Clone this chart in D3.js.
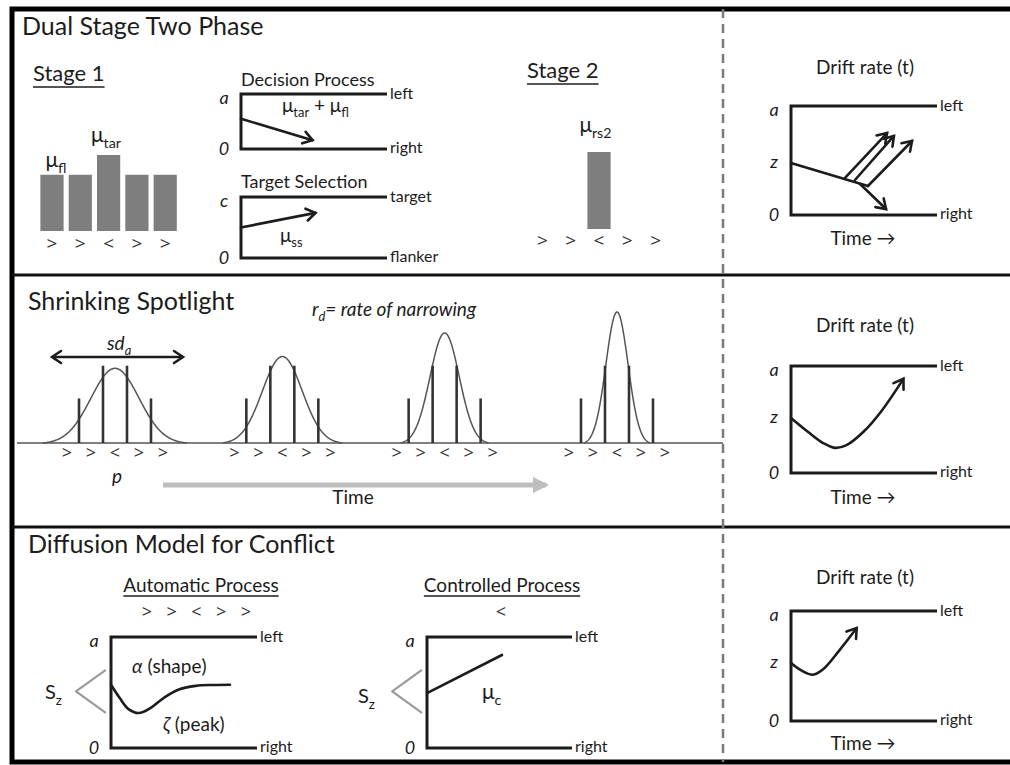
<!DOCTYPE html>
<html><head><meta charset="utf-8">
<script src="https://cdn.jsdelivr.net/npm/d3@7"></script>
<style>
body{margin:0;background:#fff;}
svg{display:block;font-family:Lato,"Open Sans",sans-serif;}
</style></head><body>
<svg id="c" width="1010" height="765"></svg>
<script>
// ---------------- DATA ----------------
const stimulus = [">", ">", "<", ">", ">"];
const controlledStim = ["<"];
const stage1Drift = [0.74, 0.74, 1.0, 0.74, 0.74];
const stage2Drift = [0, 0, 1.0, 0, 0];
const decisionPath = [[0, 0.55], [0.49, 0.16]];
const targetPath = [[0, 0.5], [0.51, 0.74]];
const spotTimes = [0, 1, 1.97, 3];
const spotSD = [1.0, 0.83, 0.61, 0.46];
const spotPeak = [0.57, 0.66, 0.84, 1.0];
const spotBarPos = [-1.5, -0.5, 0.5, 1.5];
const spotBarHeight = [0.34, 0.59, 0.59, 0.34];
const dsttMain = [[0, 0.477], [0.527, 0.266]];
const dsttUp = [[[0.37, 0.34], [0.658, 0.752]], [[0.438, 0.321], [0.705, 0.725]], [[0.527, 0.266], [0.829, 0.679]]];
const dsttDown = [[0.473, 0.284], [0.651, 0.055]];
const sslDrift = [[0, 0.514], [0.12, 0.38], [0.22, 0.28], [0.30, 0.235], [0.38, 0.26], [0.5, 0.39], [0.62, 0.58], [0.77, 0.88]];
const dmcDrift = [[0, 0.527], [0.07, 0.46], [0.15, 0.42], [0.22, 0.47], [0.33, 0.64], [0.45, 0.845]];
const autoPath = [[0, 0.57], [0.06, 0.45], [0.12, 0.35], [0.19, 0.315], [0.27, 0.36], [0.36, 0.45], [0.46, 0.525], [0.58, 0.56], [0.7, 0.568], [0.815, 0.57]];
const controlledPath = [[0, 0.495], [0.517, 0.838]];
const szChevron = [[-0.04, 0.70], [-0.24, 0.51], [-0.04, 0.32]];

// ---------------- SETUP ----------------
const INK = "#1c1c1c";
const ARW = "#2e2e2e";
const svg = d3.select("#c");
const defs = svg.append("defs");
function chevronMarker(id, color, sw) {
  defs.append("marker").attr("id", id).attr("viewBox", "-12 -9 15 18")
    .attr("refX", 0).attr("refY", 0).attr("markerWidth", 15).attr("markerHeight", 18)
    .attr("markerUnits", "userSpaceOnUse").attr("orient", "auto-start-reverse")
    .append("path").attr("d", "M-9,-6L0,0L-9,6").attr("fill", "none")
    .attr("stroke", color).attr("stroke-width", sw).attr("stroke-linecap", "round");
}
chevronMarker("hd", INK, 2.6);
defs.append("marker").attr("id", "gray").attr("viewBox", "-16 -10 20 20")
  .attr("refX", 0).attr("refY", 0).attr("markerWidth", 20).attr("markerHeight", 20)
  .attr("markerUnits", "userSpaceOnUse").attr("orient", "auto")
  .append("path").attr("d", "M-13,-8L3,0L-13,8Z").attr("fill", "#bdbdbd");

// parts: [text, sub(0/1), italic(0/1)]
function txt(x, y, parts, o = {}) {
  const size = o.size || 18;
  const t = svg.append("text").attr("x", x).attr("y", y).attr("font-size", size)
    .attr("fill", o.fill || INK).attr("text-anchor", o.anchor || "start");
  if (o.italic) t.attr("font-style", "italic");
  if (typeof parts === "string") parts = [[parts, 0]];
  let prev = 0;
  parts.forEach(([s, sub, it]) => {
    const ts = t.append("tspan").text(s);
    const shift = sub ? (o.subShift || size * 0.28) : 0;
    if (shift !== prev) ts.attr("dy", shift - prev);
    prev = shift;
    if (sub) ts.attr("font-size", size * 0.68);
    if (it) ts.attr("font-style", "italic");
  });
  if (o.underline) {
    const b = t.node().getBBox();
    svg.append("line").attr("x1", b.x).attr("x2", b.x + b.width)
      .attr("y1", y + o.underline).attr("y2", y + o.underline)
      .attr("stroke", INK).attr("stroke-width", 1.5);
  }
  return t;
}
const line = d3.line();

function diffBox(s) {
  const x = d3.scaleLinear().domain([0, 1]).range([s.x0, s.x1]);
  const y = d3.scaleLinear().domain([0, 1]).range([s.bottom, s.top]);
  svg.append("path").attr("d", line([[x(1), y(1)], [x(0), y(1)], [x(0), y(0)], [x(1), y(0)]]))
    .attr("fill", "none").attr("stroke", INK).attr("stroke-width", 3).attr("stroke-linejoin", "miter");
  txt(x(0) - 17, y(1) + 10, s.topSym, { italic: true, anchor: "middle", size: 18 });
  txt(x(0) - 17, y(0) + 6, "0", { italic: true, anchor: "middle", size: 18 });
  if (s.z !== undefined) txt(x(0) - 17, y(s.z) + 5, "z", { italic: true, anchor: "middle", size: 18 });
  txt(x(1) + 3, y(1) + 5, s.topLab, { size: 16 });
  txt(x(1) + 3, y(0) + 4, s.botLab, { size: 16 });
  return { x, y };
}
function drawPath(b, pts, o = {}) {
  const gen = d3.line().x(d => b.x(d[0])).y(d => b.y(d[1]));
  if (o.curve) gen.curve(o.curve);
  const p = svg.append("path").attr("d", gen(pts)).attr("fill", "none")
    .attr("stroke", o.color || INK).attr("stroke-width", o.sw || 2.6)
    .attr("stroke-linecap", "round").attr("stroke-linejoin", "round");
  if (o.arrow) p.attr("marker-end", "url(#hd)");
  return p;
}
function arrowsRow(cls, data, xf, y, size) {
  svg.selectAll("." + cls).data(data).enter().append("text").attr("class", cls)
    .attr("x", xf).attr("y", y).attr("text-anchor", "middle")
    .attr("font-family", "'Open Sans', sans-serif")
    .attr("font-size", size).attr("fill", ARW).text(d => d);
}

// ---------------- FRAME ----------------
const rows = [9, 275, 527, 762];
svg.append("rect").attr("x", 12).attr("y", rows[0]).attr("width", 1010).attr("height", rows[3] - rows[0])
  .attr("fill", "none").attr("stroke", "#000").attr("stroke-width", 5);
[rows[1], rows[2]].forEach(yy => svg.append("line").attr("x1", 12).attr("x2", 1010).attr("y1", yy).attr("y2", yy)
  .attr("stroke", "#111").attr("stroke-width", 3));
svg.append("line").attr("x1", 723).attr("x2", 723).attr("y1", rows[0]).attr("y2", rows[3])
  .attr("stroke", "#7a7a7a").attr("stroke-width", 2.5).attr("stroke-dasharray", "9,6");

// ---------------- PANEL 1: Dual Stage Two Phase ----------------
txt(22, 35, "Dual Stage Two Phase", { size: 25 });
txt(33, 81, "Stage 1", { size: 22, underline: 6 });

const s1x = d3.scaleBand().domain(d3.range(5)).range([35.3, 181.9]).padding(0.18);
const s1y = d3.scaleLinear().domain([0, 1]).range([231, 155]);
svg.selectAll(".b1").data(stage1Drift).enter().append("rect").attr("class", "b1")
  .attr("x", (d, i) => s1x(i)).attr("width", s1x.bandwidth())
  .attr("y", d => s1y(d)).attr("height", d => s1y(0) - s1y(d)).attr("fill", "#7e7e7e");
arrowsRow("a1", stimulus, (d, i) => s1x(i) + s1x.bandwidth() / 2, 250, 19);
txt(s1x(0) + 5, s1y(stage1Drift[0]) - 8, [["μ", 0], ["fl", 1]], { size: 21 });
txt(s1x(2) - 6, s1y(stage1Drift[2]) - 13, [["μ", 0], ["tar", 1]], { size: 21 });

txt(241, 86, "Decision Process", { size: 18 });
const dec = diffBox({ x0: 241, x1: 387, top: 94, bottom: 149, topSym: "a", topLab: "left", botLab: "right" });
drawPath(dec, decisionPath, { arrow: true });
txt(282, 112, [["μ", 0], ["tar", 1], [" + μ", 0], ["fl", 1]], { size: 19 });

txt(241, 188, "Target Selection", { size: 18 });
const tgt = diffBox({ x0: 241, x1: 387, top: 197, bottom: 258, topSym: "c", topLab: "target", botLab: "flanker" });
drawPath(tgt, targetPath, { arrow: true });
txt(280, 242, [["μ", 0], ["ss", 1]], { size: 19 });

txt(527, 78, "Stage 2", { size: 22, underline: 6 });
const s2x = d3.scaleBand().domain(d3.range(5)).range([525.7, 672.3]).padding(0.18);
const s2y = d3.scaleLinear().domain([0, 1]).range([229, 152]);
svg.selectAll(".b2").data(stage2Drift).enter().append("rect").attr("class", "b2")
  .attr("x", (d, i) => s2x(i)).attr("width", s2x.bandwidth())
  .attr("y", d => s2y(d)).attr("height", d => s2y(0) - s2y(d)).attr("fill", "#7e7e7e");
arrowsRow("a2", stimulus, (d, i) => s2x(i) + s2x.bandwidth() / 2, 247, 19);
txt(s2x(2) - 8, 132, [["μ", 0], ["rs2", 1]], { size: 21 });

txt(865, 74, "Drift rate (t)", { size: 19, anchor: "middle" });
const b1 = diffBox({ x0: 791, x1: 937, top: 106, bottom: 215, topSym: "a", z: dsttMain[0][1], topLab: "left", botLab: "right" });
drawPath(b1, dsttMain);
dsttUp.forEach(seg => drawPath(b1, seg, { arrow: true }));
drawPath(b1, dsttDown, { arrow: true });
txt(863, 245, "Time →", { size: 19, anchor: "middle" });

// ---------------- PANEL 2: Shrinking Spotlight ----------------
txt(28, 310, "Shrinking Spotlight", { size: 25 });
const tX = d3.scaleLinear().domain([0, 3]).range([115, 617]);
const sX = d3.scaleLinear().domain([-2, 2]).range([-48, 48]);
const spY = d3.scaleLinear().domain([0, 1]).range([443, 312]);

svg.append("line").attr("x1", 17).attr("x2", 723).attr("y1", spY(0)).attr("y2", spY(0))
  .attr("stroke", "#555").attr("stroke-width", 1.6);
spotTimes.forEach((t, k) => {
  const c = tX(t), sd = spotSD[k], pk = spotPeak[k];
  const e = Math.exp(-4.5);
  const pts = d3.range(-3 * sd, 3 * sd + 1e-9, sd / 40).map(u =>
    [c + sX(u), spY(pk * (Math.exp(-u * u / (2 * sd * sd)) - e) / (1 - e))]);
  svg.append("path").attr("d", line(pts)).attr("fill", "none").attr("stroke", "#555").attr("stroke-width", 1.5);
  svg.selectAll(".sb" + k).data(spotBarPos).enter().append("line").attr("class", "sb" + k)
    .attr("x1", d => c + sX(d)).attr("x2", d => c + sX(d))
    .attr("y1", spY(0)).attr("y2", (d, i) => spY(spotBarHeight[i]))
    .attr("stroke", "#333").attr("stroke-width", 2.6);
  arrowsRow("sa" + k, stimulus, (d, i) => c + sX(i - 2), 459, 18);
});
svg.append("line").attr("x1", 52).attr("x2", 183).attr("y1", 357).attr("y2", 357)
  .attr("stroke", INK).attr("stroke-width", 2.6).attr("marker-start", "url(#hd)").attr("marker-end", "url(#hd)");
txt(107, 350, [["sd", 0], ["a", 1]], { italic: true, size: 19 });
txt(312, 316, [["r", 0], ["d", 1], ["= rate of narrowing", 0]], { italic: true, size: 19 });
txt(117, 483, "p", { italic: true, size: 19, anchor: "middle" });
svg.append("line").attr("x1", 163).attr("x2", 546).attr("y1", 485).attr("y2", 485)
  .attr("stroke", "#bdbdbd").attr("stroke-width", 5).attr("marker-end", "url(#gray)");
txt(353, 504, "Time", { size: 19, anchor: "middle" });

txt(865, 332, "Drift rate (t)", { size: 19, anchor: "middle" });
const b2 = diffBox({ x0: 791, x1: 937, top: 366, bottom: 473, topSym: "a", z: sslDrift[0][1], topLab: "left", botLab: "right" });
drawPath(b2, sslDrift, { arrow: true, curve: d3.curveCatmullRom });
txt(863, 504, "Time →", { size: 19, anchor: "middle" });

// ---------------- PANEL 3: Diffusion Model for Conflict ----------------
txt(28, 553, "Diffusion Model for Conflict", { size: 25 });
txt(201, 592, "Automatic Process", { size: 19, anchor: "middle", underline: 4 });
const ax = d3.scaleLinear().domain([-2, 2]).range([147, 246]);
arrowsRow("a3", stimulus, (d, i) => ax(i - 2), 618, 18);
const au = diffBox({ x0: 111, x1: 257, top: 637, bottom: 748, topSym: "a", topLab: "left", botLab: "right" });
drawPath(au, autoPath, { curve: d3.curveCatmullRom });
drawPath(au, szChevron, { color: "#9a9a9a", sw: 2.2 });
txt(132, 673, [["α", 0, 1], [" (shape)", 0]], { size: 19 });
txt(163, 731, [["ζ", 0, 1], [" (peak)", 0]], { size: 19 });
txt(45, 699, [["S", 0], ["z", 1]], { size: 20 });

txt(502, 592, "Controlled Process", { size: 19, anchor: "middle", underline: 4 });
arrowsRow("a4", controlledStim, () => 501, 618, 18);
const co = diffBox({ x0: 427, x1: 572, top: 637, bottom: 748, topSym: "a", topLab: "left", botLab: "right" });
drawPath(co, controlledPath);
drawPath(co, szChevron, { color: "#9a9a9a", sw: 2.2 });
txt(482, 699, [["μ", 0], ["c", 1]], { size: 21 });
txt(358, 703, [["S", 0], ["z", 1]], { size: 20 });

txt(865, 584, "Drift rate (t)", { size: 19, anchor: "middle" });
const b3 = diffBox({ x0: 791, x1: 937, top: 611, bottom: 721, topSym: "a", z: dmcDrift[0][1], topLab: "left", botLab: "right" });
drawPath(b3, dmcDrift, { arrow: true, curve: d3.curveCatmullRom });
txt(863, 750, "Time →", { size: 19, anchor: "middle" });
</script>
</body></html>
